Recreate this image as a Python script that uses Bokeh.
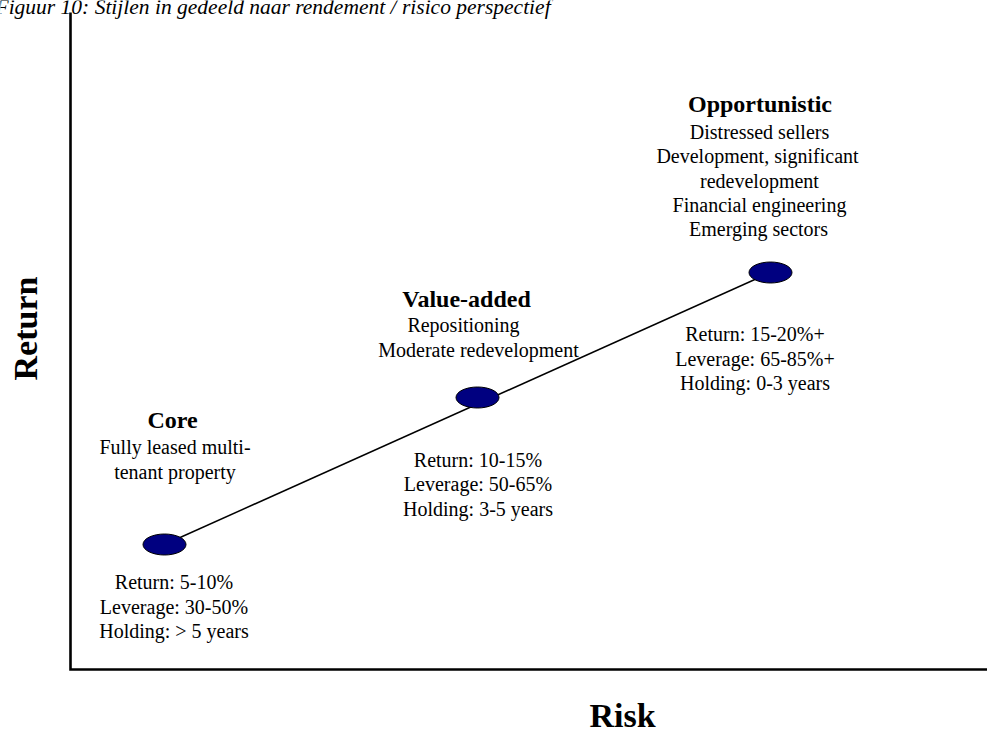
from bokeh.plotting import figure
from bokeh.models import ColumnDataSource, Range1d, Label
from bokeh.core.properties import value
from bokeh.embed import file_html
from bokeh.resources import INLINE
import math

# ---- data ----
groups = ["Core", "Value-added", "Opportunistic"]
risk = [0.94, 4.07, 7.00]
ret = [1.25, 2.72, 3.97]
descriptions = [
    ["Fully leased multi-", "tenant property"],
    ["Repositioning", "Moderate redevelopment"],
    ["Distressed sellers", "Development, significant", "redevelopment",
     "Financial engineering", "Emerging sectors"],
]
returns = ["5-10%", "10-15%", "15-20%+"]
leverage = ["30-50%", "50-65%", "65-85%+"]
holding = ["> 5 years", "3-5 years", "0-3 years"]
title_text = "Figuur 10: Stijlen in gedeeld naar rendement / risico perspectief"
x_label = "Risk"
y_label = "Return"
risk_max = 9.17      # end of the risk axis
return_max = 6.57    # top of the return axis

FONT = "Liberation Serif"
PX = 0.01  # data units per screen pixel (100 px per unit)
BASE_FIX = 0.34  # baseline correction, fraction of font size


def fix(size_px):
    return BASE_FIX * size_px * PX


p = figure(width=987, height=729, output_backend="svg", toolbar_location=None,
           x_range=Range1d(-0.70, 9.17), y_range=Range1d(-0.60, 6.69),
           min_border=0)
p.outline_line_color = None
p.grid.visible = False
p.axis.visible = False
p.background_fill_color = "white"
p.border_fill_color = "white"

# axes (L shape) in data space
p.line(x=[0, 0, risk_max], y=[return_max, 0, 0], line_color="black",
       line_width=2.6, line_join="miter")

# connecting line
p.line(x=[risk[0], risk[2]], y=[ret[0], ret[2]], line_color="black", line_width=1.5)

# points as ellipses
pts = ColumnDataSource(dict(x=risk, y=ret))
p.ellipse(x="x", y="y", width=43, height=21, width_units="screen",
          height_units="screen", source=pts, fill_color="#000080",
          line_color="black", line_width=1)

# ---- text layout (pixel offsets from each point) ----
head_dx = [8, -11, -10.5]
desc_dx = [[10.5, 10.5], [-14, 1], [-11, -13, -11, -11, -12]]
stats_dx = [9.5, 0.5, -15.5]
head_dy = [-116, -90.3, -160]
desc_gap = [25.7, 25, 26]
desc_step = 24.4
stats_dy = [44.5, 69, 68.5]
stats_step = 24.5
HEAD_PX, BODY_PX = 24, 20

xs, ys, txt, sizes, styles = [], [], [], [], []
for i, g in enumerate(groups):
    x0, y0 = risk[i], ret[i]
    xs.append(x0 + head_dx[i] * PX); ys.append(y0 - head_dy[i] * PX + fix(HEAD_PX))
    txt.append(g); sizes.append(f"{HEAD_PX}px"); styles.append("bold")
    for j, d in enumerate(descriptions[i]):
        off = head_dy[i] + desc_gap[i] + j * desc_step
        xs.append(x0 + desc_dx[i][j] * PX); ys.append(y0 - off * PX + fix(BODY_PX))
        txt.append(d); sizes.append(f"{BODY_PX}px"); styles.append("normal")
    stats = ["Return: " + returns[i], "Leverage: " + leverage[i],
             "Holding: " + holding[i]]
    for j, s in enumerate(stats):
        off = stats_dy[i] + j * stats_step
        xs.append(x0 + stats_dx[i] * PX); ys.append(y0 - off * PX + fix(BODY_PX))
        txt.append(s); sizes.append(f"{BODY_PX}px"); styles.append("normal")

src = ColumnDataSource(dict(x=xs, y=ys, text=txt, size=sizes, style=styles))
p.text(x="x", y="y", text="text", source=src, text_font=value(FONT),
       text_font_size="size", text_font_style="style", text_align="center",
       text_baseline="alphabetic", text_color="black")

# axis titles and figure caption
AX_PX = 34
p.add_layout(Label(x=5.52, y=-0.575 + fix(AX_PX), text=x_label, text_font=FONT,
                   text_font_size=f"{AX_PX}px", text_font_style="bold",
                   text_color="black", text_align="center",
                   text_baseline="alphabetic"))
p.add_layout(Label(x=-0.33 - fix(AX_PX), y=3.41, text=y_label, text_font=FONT,
                   text_font_size=f"{AX_PX}px", text_font_style="bold",
                   text_color="black", text_align="center",
                   text_baseline="alphabetic", angle=math.pi / 2))
TITLE_PX = 21.5
p.add_layout(Label(x=-0.75, y=6.55 + fix(TITLE_PX), text=title_text, text_font=FONT,
                   text_font_size=f"{TITLE_PX}px", text_font_style="italic",
                   text_color="black", text_align="left",
                   text_baseline="alphabetic"))

open("out.html", "w").write(file_html(p, INLINE))
